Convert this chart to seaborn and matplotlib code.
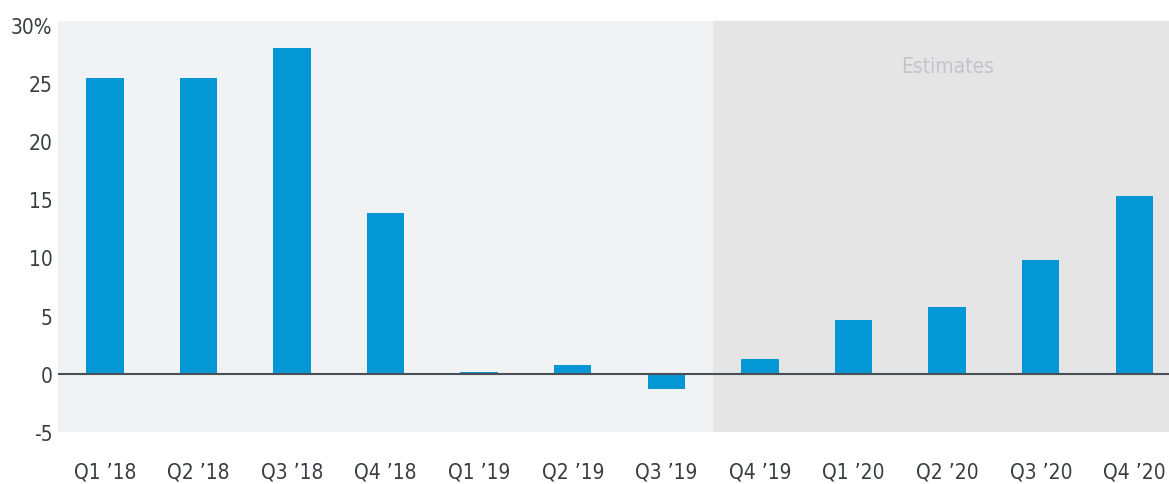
"""Quarterly growth bar chart with an estimates band."""

import matplotlib
matplotlib.use('Agg')
import matplotlib.pyplot as plt
import pandas as pd
import seaborn as sns

# Data
quarters = ["Q1 \u201918", "Q2 \u201918", "Q3 \u201918", "Q4 \u201918",
            "Q1 \u201919", "Q2 \u201919", "Q3 \u201919", "Q4 \u201919",
            "Q1 \u201920", "Q2 \u201920", "Q3 \u201920", "Q4 \u201920"]
growth = [25.4, 25.4, 28.0, 13.8, 0.2, 0.8, -1.3, 1.3, 4.65, 5.7, 9.8, 15.3]
y_ticks = [-5, 0, 5, 10, 15, 20, 25, 30]
y_labels = ["-5", "0", "5", "10", "15", "20", "25", "30%"]
estimate_start = "Q4 \u201919"
estimate_label = "Estimates"

sns.set_style('white')
plt.rcParams['font.family'] = ['DejaVu Sans']
plt.rcParams['font.stretch'] = 'condensed'

df = pd.DataFrame({'quarter': quarters, 'growth': growth})

fig = plt.figure(figsize=(11.69, 4.85), dpi=100)
ax = fig.add_axes([0.0496, 0.107, 0.9504, 0.8476])
ax.set_facecolor('#F1F2F4')

n = len(quarters)
est_idx = quarters.index(estimate_start)
ax.axvspan(est_idx - 0.5, n - 0.63, color='#E5E5E6', zorder=0, lw=0)

sns.barplot(data=df, x='quarter', y='growth', color='#0397D6', width=0.4,
            saturation=1, linewidth=0, ax=ax, zorder=2)

ax.axhline(0, color='#4A4F55', lw=1.5, zorder=3)

ax.set_xlim(-0.5, n - 0.63)
ax.set_ylim(-5, 30.3)
ax.set_yticks(y_ticks)
ax.set_yticklabels(y_labels)
ax.set_xlabel('')
ax.set_ylabel('')
ax.tick_params(axis='both', length=0, labelsize=15, colors='#3A3D42')
ax.tick_params(axis='x', pad=21)
ax.tick_params(axis='y', pad=4)
for spine in ax.spines.values():
    spine.set_visible(False)

ax.text(est_idx + 2, 26.4, estimate_label, ha='center', va='center',
        fontsize=15, color='#C2C4C8', zorder=3)

fig.savefig('out.png', dpi=100)
plt.close(fig)
